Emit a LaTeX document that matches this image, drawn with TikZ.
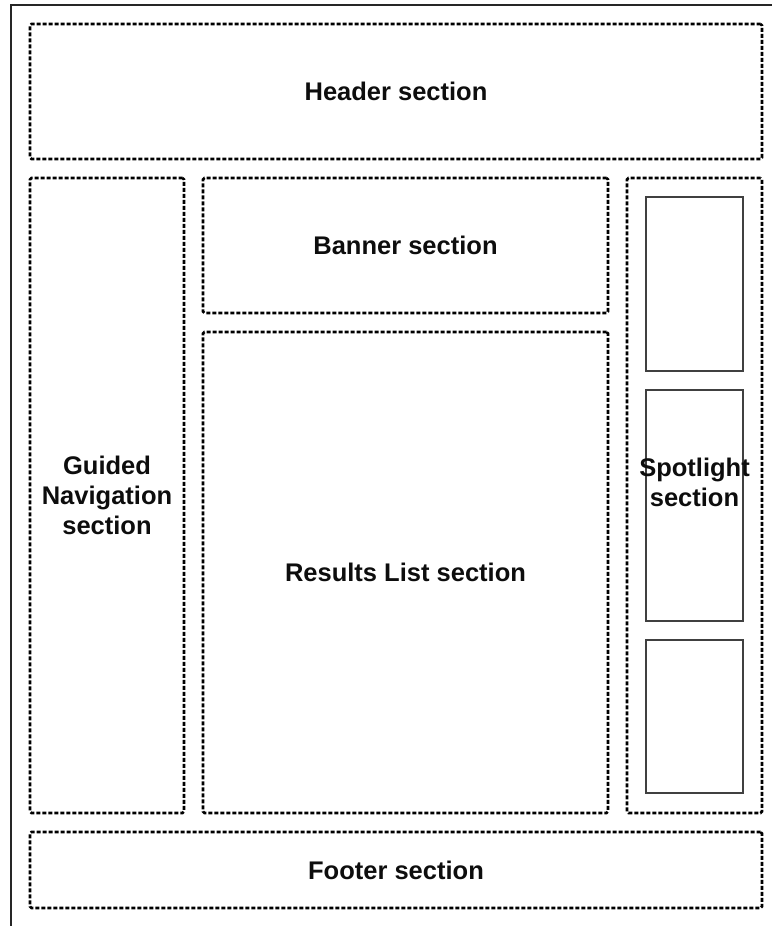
\documentclass[tikz,border=0pt]{standalone}
\usepackage{fontspec}
\setmainfont{Liberation Sans}
\begin{document}
\begin{tikzpicture}[x=1pt,y=-1pt,
  sect/.style={draw=black, line width=2.6pt, dash pattern=on 4pt off 2pt,
    rounded corners=1.5pt, inner sep=0pt, align=center,
    font=\fontsize{25.5}{30}\selectfont\bfseries, text=black!95},
  slot/.style={draw=black!75, line width=1.4pt, inner sep=0pt},
  lbl/.style={align=center, inner sep=0pt, font=\fontsize{25.5}{30}\selectfont\bfseries, text=black!95},
  frame/.style={draw=black!85, line width=2.4pt}]
\useasboundingbox (0,0) rectangle (772,926);
% outer frame (open to the right and bottom)
\coordinate (fb) at (11,926);
\coordinate (fc) at (11,5);
\coordinate (fr) at (772,5);
\draw[frame] (fb) -- (fc) -- (fr);
% sections
\node[sect, minimum width=732pt, minimum height=135pt] (header) at (396,91.5) {Header section};
\node[sect, minimum width=154pt, minimum height=635pt] (nav) at (107,495.5) {Guided\\Navigation\\section};
\node[sect, minimum width=405pt, minimum height=135pt] (banner) at (405.5,245.5) {Banner section};
\node[sect, minimum width=405pt, minimum height=481pt] (results) at (405.5,572.5) {Results List section};
\node[sect, minimum width=135pt, minimum height=635pt] (spot) at (694.5,495.5) {};
\node[sect, minimum width=732pt, minimum height=76pt] (footer) at (396,870) {Footer section};
% spotlight slots
\node[slot, minimum width=97pt, minimum height=174pt] (slot1) at (694.5,284) {};
\node[slot, minimum width=97pt, minimum height=231pt] (slot2) at (694.5,505.5) {};
\node[slot, minimum width=97pt, minimum height=153pt] (slot3) at (694.5,716.5) {};
\node[lbl] (spotlabel) at (694.5,482) {Spotlight\\section};
\end{tikzpicture}
\end{document}
